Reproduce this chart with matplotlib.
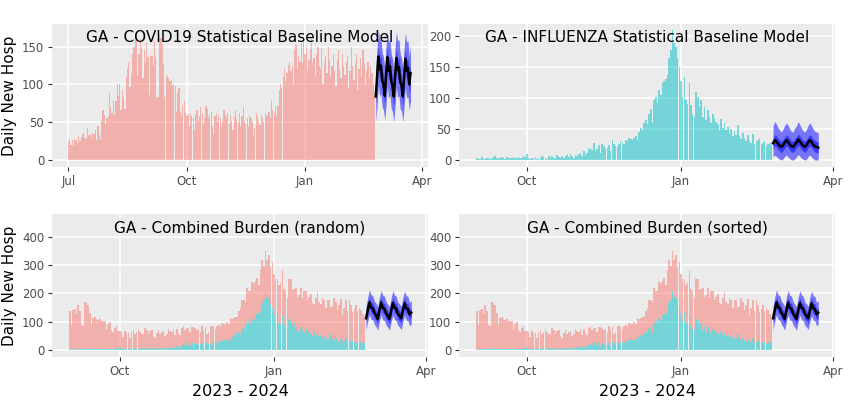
import matplotlib
matplotlib.use("Agg")
import matplotlib.pyplot as plt
import matplotlib.dates as mdates
import pandas as pd

# observed daily new hospitalisations
covid = [
    25, 28, 20, 26, 19, 28, 27, 22, 32, 25, 30, 34, 36, 29, 28, 42, 33, 34, 30, 36, 35, 40, 27, 45, 33, 28, 52, 66, 60, 48, 55,
    58, 88, 70, 62, 80, 60, 78, 100, 85, 100, 66, 92, 84, 68, 110, 120, 130, 96, 115, 140, 150, 165, 160, 112, 140, 160, 150, 108, 145, 128, 155,
    136, 86, 138, 138, 126, 157, 136, 84, 84, 165, 162, 153, 127, 84, 110, 112, 108, 104, 106, 98, 100, 98, 64, 88, 95, 64, 60, 73, 78, 62,
    58, 60, 45, 62, 58, 55, 40, 60, 66, 52, 58, 70, 62, 48, 55, 72, 68, 55, 60, 64, 45, 35, 58, 62, 50, 60, 56, 44, 52, 66, 60,
    55, 62, 48, 60, 52, 40, 58, 66, 54, 50, 62, 45, 58, 70, 52, 48, 56, 44, 60, 55, 50, 32, 42, 62, 58, 52, 46, 60, 56, 50,
    62, 58, 60, 64, 55, 80, 66, 62, 70, 58, 72, 92, 100, 95, 110, 122, 105, 115, 126, 130, 118, 125, 100, 145, 152, 120, 138, 130, 155, 128, 160,
    140, 150, 118, 132, 145, 160, 128, 135, 112, 140, 150, 125, 120, 148, 100, 128, 138, 115, 150, 132, 110, 125, 140, 118, 98, 132, 145, 120, 108, 140, 125,
    112, 130, 138, 95, 118, 150, 125, 106, 128, 140, 92, 120, 135, 110, 145, 128, 100, 118, 130, 108, 125, 115, 100, 88,
]
flu = [
    3, 1, 2, 5, 1, 2, 3, 4, 2, 3, 5, 6, 3, 4, 4, 5, 3, 2, 5, 4, 3, 4, 5, 4, 3, 5, 4, 3, 6, 5,
    9, 3, 2, 4, 3, 5, 2, 4, 3, 6, 5, 3, 2, 7, 3, 6, 4, 3, 8, 5, 4, 6, 3, 7, 8, 5, 10, 6, 4, 8, 7,
    9, 11, 6, 14, 8, 12, 18, 20, 16, 28, 14, 18, 24, 12, 26, 22, 18, 20, 24, 15, 32, 26, 22, 21, 25, 30, 28, 26, 33, 30,
    35, 34, 32, 36, 38, 33, 45, 52, 48, 60, 65, 58, 75, 82, 60, 96, 102, 92, 113, 105, 124, 128, 130, 137, 165, 178, 210, 188, 182, 164, 150,
    128, 102, 134, 97, 91, 124, 89, 75, 70, 110, 102, 86, 97, 70, 86, 65, 80, 70, 59, 75, 68, 62, 58, 48, 66, 52, 60, 48, 54, 42, 50,
    38, 46, 40, 57, 38, 34, 44, 36, 30, 40, 32, 28, 42, 26, 30, 32, 35, 25, 28, 30, 22, 26, 28, 24,
]

# 4-week forecasts: 5%, 25%, median, 75%, 95%
covid_lo90 = [50, 72, 100, 84, 88, 70, 66, 52, 74, 98, 82, 86, 68, 64, 50, 72, 97, 83, 85, 67, 65, 50, 70, 96, 82, 84, 66, 78]
covid_lo50 = [72, 98, 125, 108, 112, 93, 88, 73, 100, 124, 106, 111, 92, 86, 72, 98, 123, 107, 110, 91, 87, 72, 97, 122, 106, 109, 88, 103]
covid_med = [84, 110, 137, 120, 125, 105, 100, 85, 112, 136, 118, 124, 104, 98, 84, 110, 135, 119, 123, 103, 99, 84, 109, 134, 118, 122, 100, 115]
covid_hi50 = [98, 124, 150, 134, 138, 118, 113, 99, 126, 149, 132, 137, 117, 111, 98, 124, 148, 133, 136, 116, 112, 98, 123, 147, 132, 135, 113, 128]
covid_hi90 = [120, 150, 172, 158, 162, 142, 136, 122, 152, 170, 156, 160, 140, 134, 120, 150, 170, 157, 160, 140, 135, 120, 148, 168, 156, 158, 137, 152]

flu_lo90 = [5, 8, 6, 3, 1, 0, 2, 6, 8, 5, 2, 0, 0, 2, 5, 9, 6, 3, 1, 0, 1, 6, 8, 5, 2, 0, 0, 0]
flu_lo50 = [18, 23, 21, 17, 14, 12, 15, 19, 23, 20, 16, 13, 12, 16, 19, 24, 21, 17, 14, 12, 15, 20, 23, 20, 16, 13, 12, 11]
flu_med = [27, 32, 30, 26, 23, 21, 24, 28, 32, 29, 25, 22, 21, 25, 28, 33, 30, 26, 23, 21, 24, 29, 32, 29, 25, 22, 21, 20]
flu_hi50 = [36, 41, 39, 35, 32, 30, 33, 37, 41, 38, 34, 31, 30, 34, 37, 42, 39, 35, 32, 30, 33, 38, 41, 38, 34, 31, 30, 29]
flu_hi90 = [55, 62, 58, 52, 48, 45, 50, 56, 60, 56, 50, 46, 45, 52, 55, 62, 57, 51, 47, 45, 50, 56, 60, 55, 50, 46, 45, 44]

comb_lo90 = [72, 100, 125, 108, 106, 90, 82, 70, 102, 124, 106, 104, 88, 80, 70, 100, 123, 107, 104, 87, 81, 72, 100, 122, 105, 103, 85, 92]
comb_lo50 = [95, 122, 150, 132, 130, 112, 105, 93, 124, 149, 130, 128, 110, 103, 93, 122, 148, 131, 128, 109, 104, 95, 123, 147, 129, 127, 107, 115]
comb_med = [112, 140, 168, 150, 148, 130, 122, 110, 142, 167, 148, 146, 128, 120, 110, 140, 166, 149, 146, 127, 121, 112, 141, 165, 147, 145, 125, 132]
comb_hi50 = [130, 158, 186, 168, 166, 148, 140, 128, 160, 185, 166, 164, 146, 138, 128, 158, 184, 167, 164, 145, 139, 130, 159, 183, 165, 163, 143, 150]
comb_hi90 = [155, 185, 212, 195, 192, 172, 165, 152, 187, 210, 193, 190, 170, 162, 152, 185, 209, 194, 190, 169, 163, 154, 186, 208, 192, 189, 167, 175]

covid_dates = pd.date_range("2023-07-01", periods=len(covid), freq="D")
flu_dates = pd.date_range("2023-09-01", periods=len(flu), freq="D")
fc_dates = pd.date_range("2024-02-25", periods=len(covid_med), freq="D")
covid_recent = covid[len(covid) - len(flu):]

TICK_DATES = ["2023-07-01", "2023-10-01", "2024-01-01", "2024-04-01"]
TICK_LABELS = ["Jul", "Oct", "Jan", "Apr"]

RED, CYAN = "#F8766D", "#00BFC4"
BG = "#EBEBEB"


def style(ax, xlim, ylim, yticks, title):
    ax.set_facecolor(BG)
    for s in ax.spines.values():
        s.set_visible(False)
    ax.set_axisbelow(True)
    ax.grid(color="white", linewidth=1.1)
    ax.set_xticks([mdates.date2num(pd.Timestamp(d)) for d in TICK_DATES], TICK_LABELS)
    ax.set_xlim(mdates.date2num(pd.Timestamp(xlim[0])), mdates.date2num(pd.Timestamp(xlim[1])))
    ax.set_ylim(*ylim)
    ax.set_yticks(yticks)
    ax.tick_params(length=3, width=0.8, color="#333333", labelcolor="#4D4D4D", labelsize=8.5, pad=2.5)
    ax.text(0.5, 0.905, title, transform=ax.transAxes, ha="center", va="center", fontsize=11)


def forecast(ax, lo90, lo50, med, hi50, hi90):
    ax.fill_between(fc_dates, lo90, hi90, color="blue", alpha=0.5, linewidth=0)
    ax.fill_between(fc_dates, lo50, hi50, color="blue", alpha=0.5, linewidth=0)
    ax.plot(fc_dates, med, color="black", linewidth=1.8)


fig = plt.figure(figsize=(8.5, 4), dpi=100)
W, H = 376 / 850, 143 / 400
ax1 = fig.add_axes([52 / 850, 233 / 400, W, H])
ax2 = fig.add_axes([459 / 850, 233 / 400, W, H])
ax3 = fig.add_axes([52 / 850, 43 / 400, W, H])
ax4 = fig.add_axes([459 / 850, 43 / 400, W, H])

ax1.bar(covid_dates, covid, width=0.95, color=RED, alpha=0.5, linewidth=0)
forecast(ax1, covid_lo90, covid_lo50, covid_med, covid_hi50, covid_hi90)
style(ax1, ("2023-06-18 07:00", "2024-04-05 14:00"), (-9.3, 180), [0, 50, 100, 150],
      "GA - COVID19 Statistical Baseline Model")

ax2.bar(flu_dates, flu, width=0.95, color=CYAN, alpha=0.5, linewidth=0)
forecast(ax2, flu_lo90, flu_lo50, flu_med, flu_hi50, flu_hi90)
style(ax2, ("2023-08-21 10:00", "2024-04-02"), (-11.3, 219.4), [0, 50, 100, 150, 200],
      "GA - INFLUENZA Statistical Baseline Model")

for ax, title in [(ax3, "GA - Combined Burden (random)"), (ax4, "GA - Combined Burden (sorted)")]:
    ax.bar(flu_dates, flu, width=0.95, color=CYAN, alpha=0.5, linewidth=0)
    ax.bar(flu_dates, covid_recent, bottom=flu, width=0.95, color=RED, alpha=0.5, linewidth=0)
    forecast(ax, comb_lo90, comb_lo50, comb_med, comb_hi50, comb_hi90)
    style(ax, ("2023-08-21 10:00", "2024-04-02"), (-24.7, 480), [0, 100, 200, 300, 400], title)
    ax.set_xlabel("2023 - 2024", fontsize=11.5)
    ax.xaxis.set_label_coords(0.5, -0.19)

for ax in (ax1, ax3):
    ax.set_ylabel("Daily New Hosp", fontsize=11, va="center")
    ax.yaxis.set_label_coords(-0.114, 0.5)

fig.savefig("out.png", dpi=100, facecolor="white")
